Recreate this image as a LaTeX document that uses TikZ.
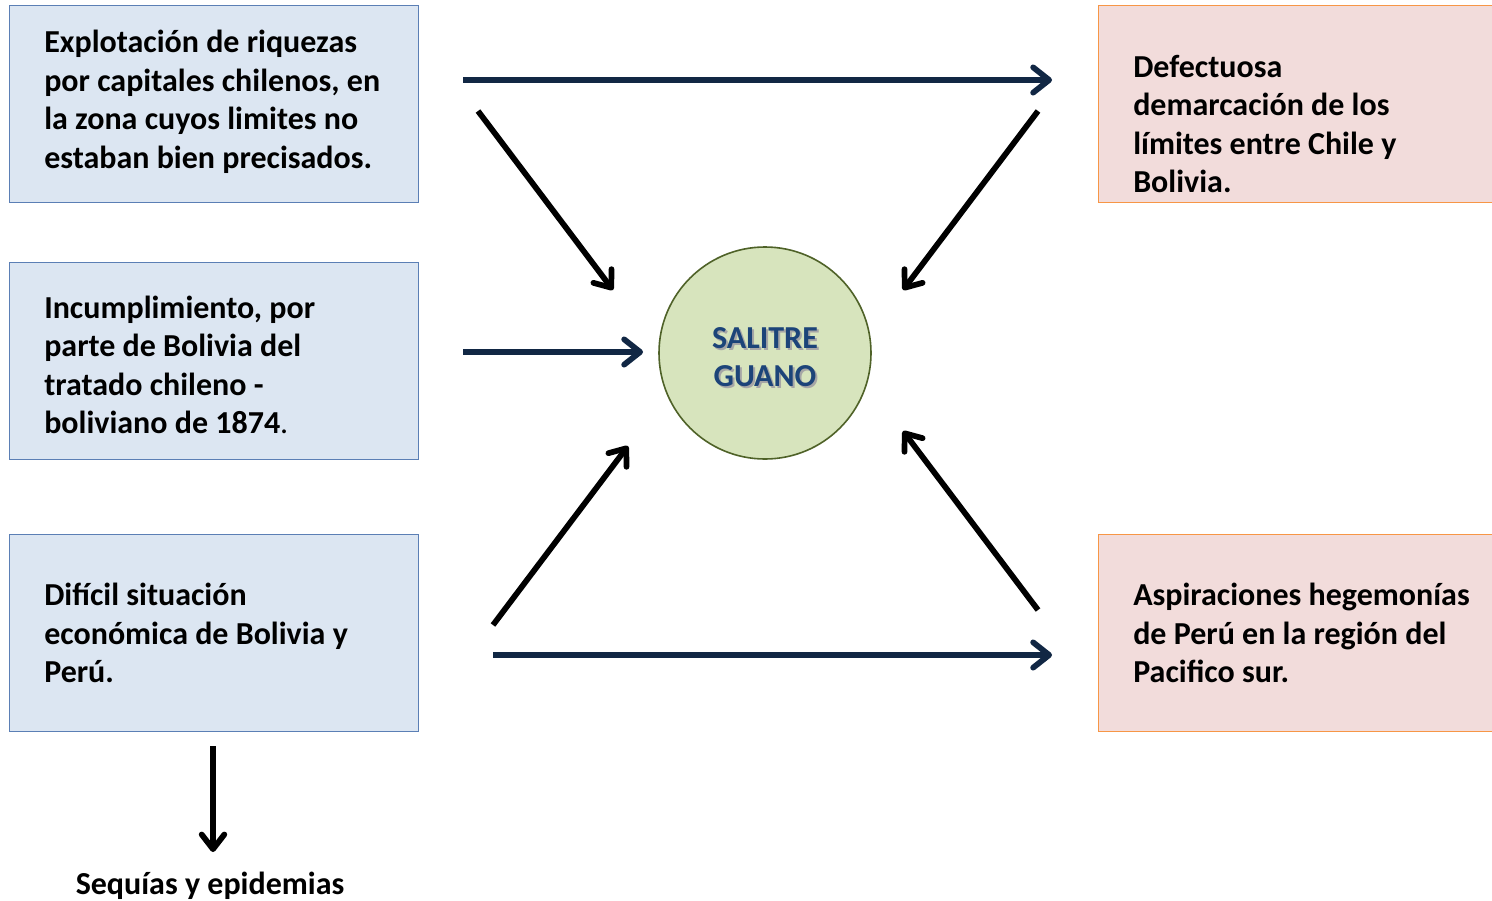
\documentclass[tikz,border=0pt]{standalone}
\usepackage{fontspec}
\setmainfont{Carlito}
\usetikzlibrary{arrows.meta}
\definecolor{boxblue}{HTML}{DCE6F2}
\definecolor{boxblueline}{HTML}{5B7FB5}
\definecolor{boxpink}{HTML}{F2DCDB}
\definecolor{boxorange}{HTML}{F79646}
\definecolor{circfill}{HTML}{D7E4BD}
\definecolor{circline}{HTML}{4F6228}
\definecolor{navy}{HTML}{112744}
\definecolor{saltext}{HTML}{1C4479}
\tikzset{
  bluebox/.style={draw=boxblueline, fill=boxblue, line width=0.8pt, minimum width=306.75pt, minimum height=147.75pt, inner sep=0pt, anchor=north west},
  pinkbox/.style={draw=boxorange, fill=boxpink, line width=0.8pt, minimum width=310pt, minimum height=147.75pt, inner sep=0pt, anchor=north west},
  boxtext/.style={anchor=west, align=left, inner sep=0pt, font=\fontsize{24pt}{28.9pt}\selectfont\bfseries},
  navyarrow/.style={draw=navy, line width=4.3pt, -{Straight Barb[length=12pt, width=19pt, round]}},
  blackarrow/.style={draw=black, line width=4.3pt, -{Straight Barb[length=11pt, width=17pt, round]}},
}
\begin{document}
\begin{tikzpicture}[x=0.75pt, y=-0.75pt]
\clip (0,0) rectangle (1492,900);
\fill[white] (0,0) rectangle (1492,900);

% boxes
\node[bluebox] (a1) at (9,5) {};
\node[bluebox] (a2) at (9,262) {};
\node[bluebox] (a3) at (9,534) {};
\node[pinkbox] (b1) at (1098,5) {};
\node[pinkbox] (b2) at (1098,534) {};

\node[boxtext] (ta1) at (44,102) {Explotación de riquezas\\por capitales chilenos, en\\la zona cuyos limites no\\estaban bien precisados.};
\node[boxtext] (ta2) at (44,365) {Incumplimiento, por\\parte de Bolivia del\\tratado chileno -\\boliviano de 1874{\mdseries .}};
\node[boxtext] (ta3) at (44,633) {Difícil situación\\económica de Bolivia y\\Perú.};
\node[boxtext] (tb1) at (1133,124) {Defectuosa\\demarcación de los\\límites entre Chile y\\Bolivia.};
\node[boxtext] (tb2) at (1133,633) {Aspiraciones hegemonías\\de Perú en la región del\\Pacifico sur.};

% circle
\node[circle, draw=circline, fill=circfill, line width=1.2pt, minimum size=159pt, inner sep=0pt] (c) at (765,353) {};
\node[align=center, inner sep=0pt, text=black!35, font=\fontsize{24pt}{28.9pt}\selectfont\bfseries] (cshadow) at (767,359) {SALITRE\\GUANO};
\node[align=center, inner sep=0pt, text=saltext, font=\fontsize{24pt}{28.9pt}\selectfont\bfseries] (ct) at (765,357) {SALITRE\\GUANO};

% arrow end points
\coordinate (n1s) at (463,80);   \coordinate (n1e) at (1052,80);
\coordinate (n2s) at (463,352);  \coordinate (n2e) at (643,352);
\coordinate (n3s) at (493,655);  \coordinate (n3e) at (1052,655);
\coordinate (k1s) at (478,111);  \coordinate (k1e) at (613,290);
\coordinate (k2s) at (1038,111); \coordinate (k2e) at (903,290);
\coordinate (k3s) at (493,625);  \coordinate (k3e) at (628,446);
\coordinate (k4s) at (1038,610); \coordinate (k4e) at (903,431);
\coordinate (k5s) at (213,746);  \coordinate (k5e) at (213,852);

\draw[navyarrow] (n1s) -- (n1e);
\draw[navyarrow] (n2s) -- (n2e);
\draw[navyarrow] (n3s) -- (n3e);
\draw[blackarrow] (k1s) -- (k1e);
\draw[blackarrow] (k2s) -- (k2e);
\draw[blackarrow] (k3s) -- (k3e);
\draw[blackarrow] (k4s) -- (k4e);
\draw[blackarrow] (k5s) -- (k5e);

\node[inner sep=0pt, font=\fontsize{24pt}{28.9pt}\selectfont\bfseries] (seq) at (210,886) {Sequías y epidemias};
\end{tikzpicture}
\end{document}
